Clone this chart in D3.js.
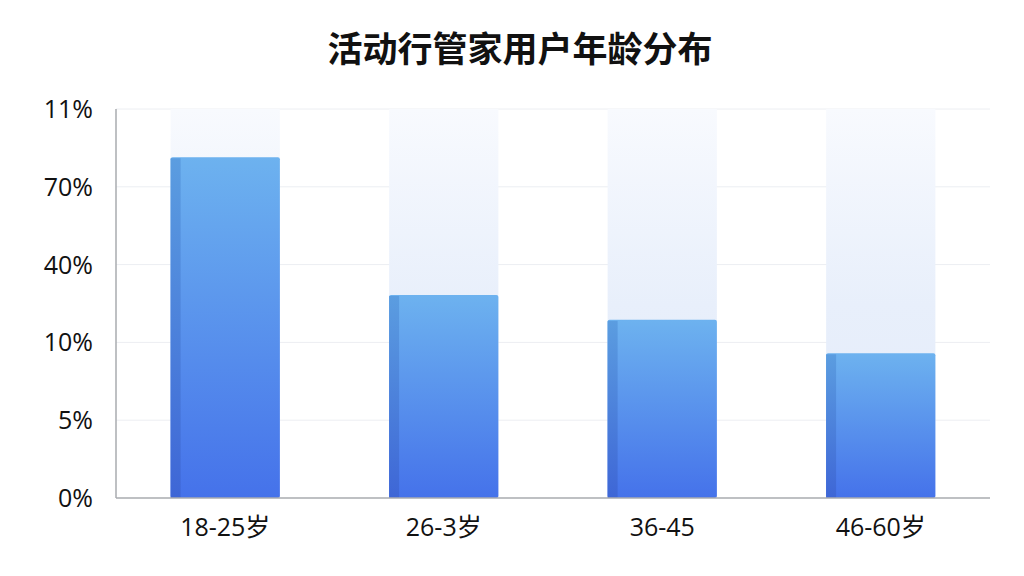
<!DOCTYPE html>
<html>
<head>
<meta charset="utf-8">
<script src="https://cdn.jsdelivr.net/npm/d3@7"></script>
<style>
  body { margin: 0; background: #fff; }
  svg { display: block; font-family: "Noto Sans CJK SC", "Noto Sans", sans-serif; }
  .lbl { font-family: "Open Sans", "Noto Sans CJK SC", sans-serif; }
</style>
</head>
<body>
<script>
// data (values in tick steps, the axis labels are uneven)
var categories = ["18-25岁", "26-3岁", "36-45", "46-60岁"];
var values = [4.38, 2.61, 2.29, 1.86];
var tickLabels = ["0%", "5%", "10%", "40%", "70%", "11%"];

var w = 1024, h = 576;
var plotLeft = 116, plotRight = 990, plotTop = 109, plotBottom = 498;

var svg = d3.select("body").append("svg")
	.attr("width", w)
	.attr("height", h);

var defs = svg.append("defs");
var g1 = defs.append("linearGradient").attr("id", "barFill")
	.attr("x1", 0).attr("y1", 0).attr("x2", 0).attr("y2", 1);
g1.append("stop").attr("offset", "0%").attr("stop-color", "#6db2ef");
g1.append("stop").attr("offset", "100%").attr("stop-color", "#4572ea");

var g2 = defs.append("linearGradient").attr("id", "sideFill")
	.attr("x1", 0).attr("y1", 0).attr("x2", 0).attr("y2", 1);
g2.append("stop").attr("offset", "0%").attr("stop-color", "#5b9de0");
g2.append("stop").attr("offset", "100%").attr("stop-color", "#3e66d6");

var g3 = defs.append("linearGradient").attr("id", "bgFill")
	.attr("x1", 0).attr("y1", 0).attr("x2", 0).attr("y2", 1);
g3.append("stop").attr("offset", "0%").attr("stop-color", "#f8fafe");
g3.append("stop").attr("offset", "50%").attr("stop-color", "#e8effb");
g3.append("stop").attr("offset", "100%").attr("stop-color", "#e3ebfa");

var xScale = d3.scaleBand()
	.domain(categories)
	.range([plotLeft, plotRight])
	.paddingInner(0.5)
	.paddingOuter(0.25);
var yScale = d3.scaleLinear()
	.domain([0, tickLabels.length - 1])
	.range([plotBottom, plotTop]);

// title
svg.append("text")
	.attr("x", 520)
	.attr("y", 62)
	.attr("text-anchor", "middle")
	.attr("font-size", "35px")
	.attr("font-weight", "bold")
	.attr("fill", "#111")
	.text("活动行管家用户年龄分布");

// gridlines
svg.selectAll("line.grid")
	.data(d3.range(1, tickLabels.length))
	.enter()
	.append("line")
	.attr("class", "grid")
	.attr("x1", plotLeft)
	.attr("x2", plotRight)
	.attr("y1", function(d) { return yScale(d); })
	.attr("y2", function(d) { return yScale(d); })
	.attr("stroke", "#eceef2")
	.attr("stroke-width", 1);

// pale background columns
svg.selectAll("rect.bg")
	.data(categories)
	.enter()
	.append("rect")
	.attr("class", "bg")
	.attr("x", function(d) { return xScale(d); })
	.attr("y", yScale(tickLabels.length - 1))
	.attr("width", xScale.bandwidth())
	.attr("height", plotBottom - yScale(tickLabels.length - 1))
	.attr("fill", "url(#bgFill)");

// bars
svg.selectAll("rect.bar")
	.data(values)
	.enter()
	.append("rect")
	.attr("class", "bar")
	.attr("x", function(d, i) { return xScale(categories[i]); })
	.attr("y", function(d) { return yScale(d); })
	.attr("width", xScale.bandwidth())
	.attr("height", function(d) { return plotBottom - yScale(d); })
	.attr("rx", 2)
	.attr("fill", "url(#barFill)");

// darker left face
svg.selectAll("rect.side")
	.data(values)
	.enter()
	.append("rect")
	.attr("class", "side")
	.attr("x", function(d, i) { return xScale(categories[i]); })
	.attr("y", function(d) { return yScale(d) + 1; })
	.attr("width", 10)
	.attr("height", function(d) { return plotBottom - yScale(d) - 1; })
	.attr("fill", "url(#sideFill)");

// axes
svg.append("line")
	.attr("x1", plotLeft).attr("x2", plotLeft)
	.attr("y1", plotTop).attr("y2", plotBottom)
	.attr("stroke", "#a9abaf").attr("stroke-width", 1.5);
svg.append("line")
	.attr("x1", plotLeft).attr("x2", plotRight)
	.attr("y1", plotBottom).attr("y2", plotBottom)
	.attr("stroke", "#a9abaf").attr("stroke-width", 1.5);

// y tick labels
svg.selectAll("text.ytick")
	.data(tickLabels)
	.enter()
	.append("text")
	.attr("class", "ytick lbl")
	.attr("x", 93)
	.attr("y", function(d, i) { return yScale(i); })
	.attr("dy", "0.36em")
	.attr("text-anchor", "end")
	.attr("font-size", "25px")
	.attr("fill", "#111")
	.text(function(d) { return d; });

// x labels
svg.selectAll("text.xtick")
	.data(categories)
	.enter()
	.append("text")
	.attr("class", "xtick lbl")
	.attr("x", function(d) { return xScale(d) + xScale.bandwidth() / 2; })
	.attr("y", 536)
	.attr("text-anchor", "middle")
	.attr("font-size", "25px")
	.attr("fill", "#111")
	.text(function(d) { return d; });
</script>
</body>
</html>
